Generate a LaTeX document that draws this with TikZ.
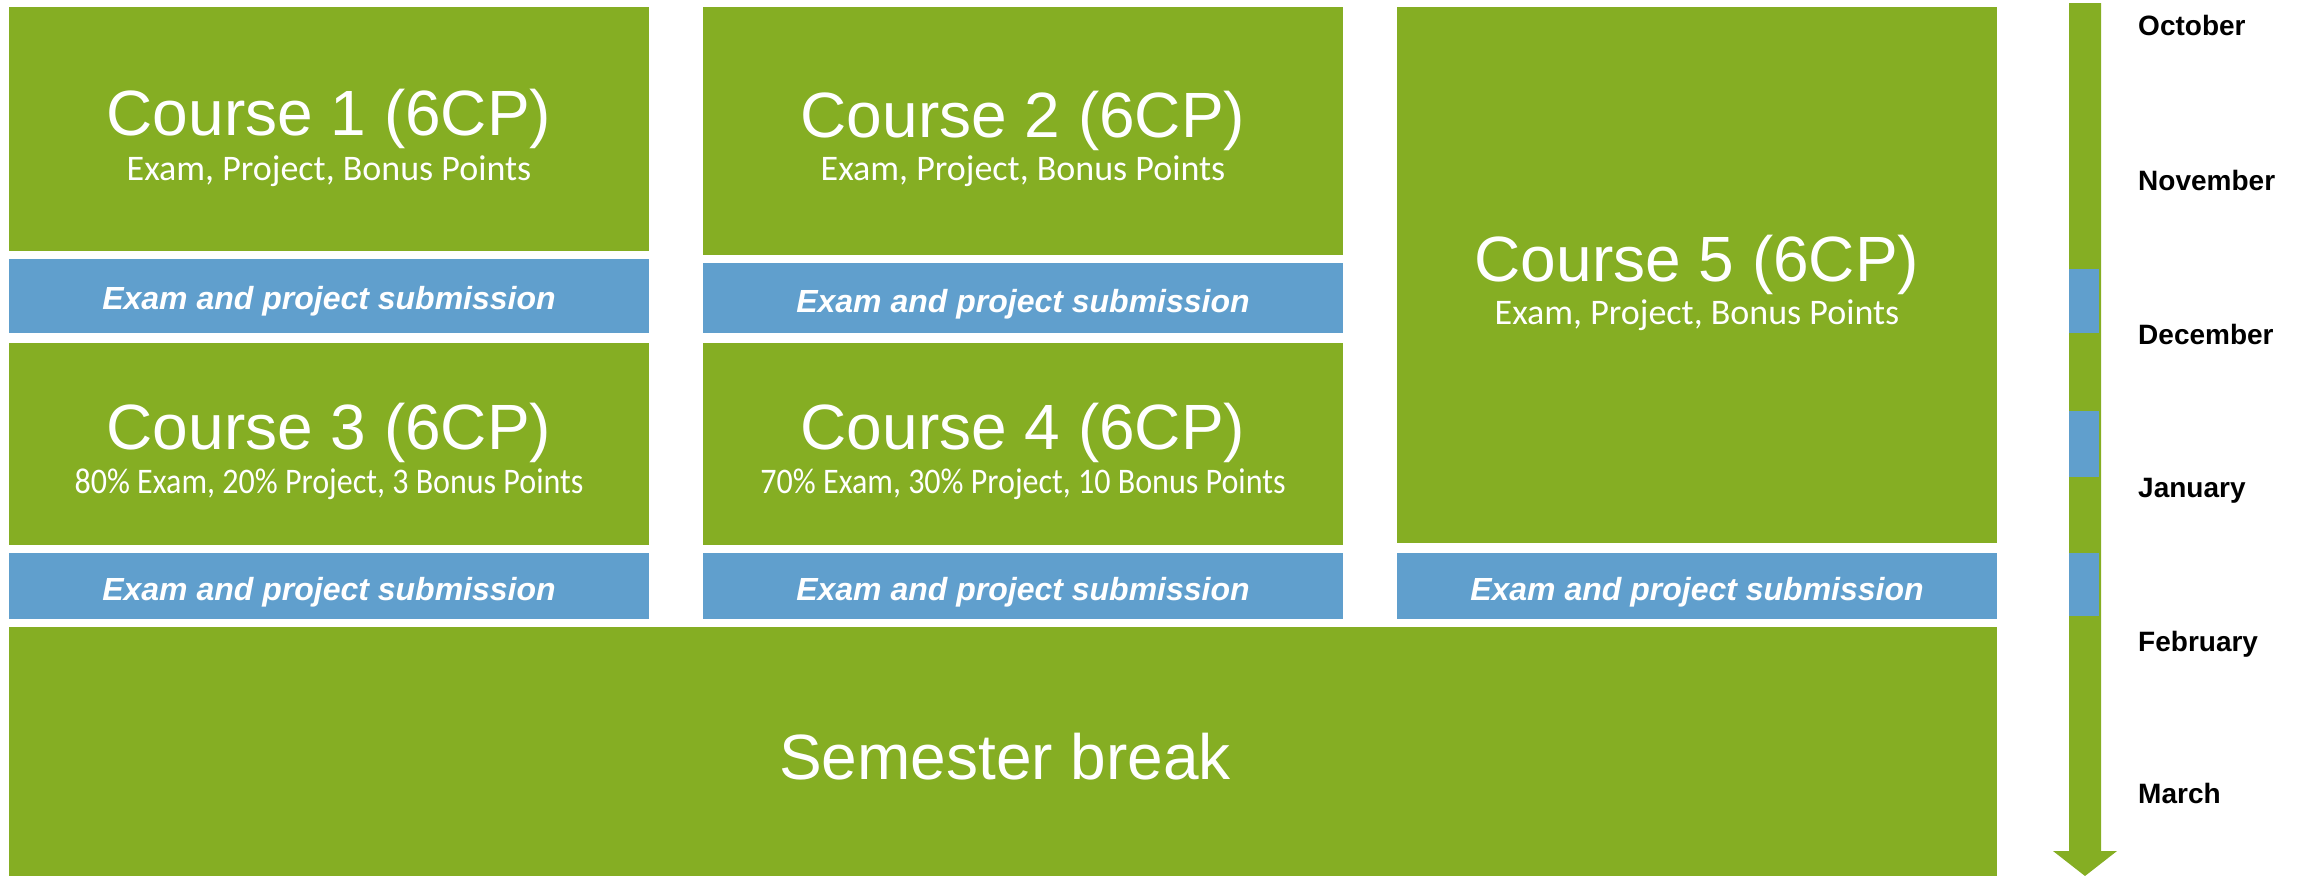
\documentclass[tikz,border=0pt]{standalone}
\usepackage{fontspec}
\setmainfont{Liberation Sans}
\newfontfamily\subfont{Carlito}
\usetikzlibrary{fit}
\definecolor{cgreen}{RGB}{133,174,35}
\definecolor{cblue}{RGB}{96,159,205}
\tikzset{
  gbox/.style={fill=cgreen, inner sep=0pt, outer sep=0pt, draw=none},
  bbox/.style={fill=cblue, inner sep=0pt, outer sep=0pt, draw=none},
  titletext/.style={anchor=base, inner sep=0pt, text=white, font=\fontsize{64}{70}\selectfont},
  subtext/.style={anchor=base, inner sep=0pt, text=white, font=\subfont\fontsize{36}{40}\selectfont},
  bluetext/.style={anchor=base, inner sep=0pt, text=white, font=\bfseries\itshape\fontsize{32}{36}\selectfont},
  monthtext/.style={anchor=base west, inner sep=0pt, text=black, font=\bfseries\fontsize{28}{32}\selectfont},
}
\begin{document}
\begin{tikzpicture}[x=1pt,y=-1pt]
\useasboundingbox (0,0) rectangle (2303,876);
% column 1
\node[gbox, fit={(9,7) (649,251)}] (c1) {};
\node[bbox, fit={(9,259) (649,333)}] (s1) {};
\node[gbox, fit={(9,343) (649,545)}] (c3) {};
\node[bbox, fit={(9,553) (649,619)}] (s3) {};
% column 2
\node[gbox, fit={(703,7) (1343,255)}] (c2) {};
\node[bbox, fit={(703,263) (1343,333)}] (s2) {};
\node[gbox, fit={(703,343) (1343,545)}] (c4) {};
\node[bbox, fit={(703,553) (1343,619)}] (s4) {};
% column 3
\node[gbox, fit={(1397,7) (1997,543)}] (c5) {};
\node[bbox, fit={(1397,553) (1997,619)}] (s5) {};
% semester break
\node[gbox, fit={(9,627) (1997,876)}] (sb) {};
% texts
\node[titletext] (c1t) at (329,135) {Course 1 (6CP)};
\node[subtext] (c1s) at (329,180) {Exam, Project, Bonus Points};
\node[titletext] (c2t) at (1023,137) {Course 2 (6CP)};
\node[subtext] (c2s) at (1023,180) {Exam, Project, Bonus Points};
\node[titletext] (c3t) at (329,449) {Course 3 (6CP)};
\node[subtext] (c3s) at (329,493) {\scalebox{0.89}[1]{80\% Exam, 20\% Project, 3 Bonus Points}};
\node[titletext] (c4t) at (1023,449) {Course 4 (6CP)};
\node[subtext] (c4s) at (1023,493) {\scalebox{0.89}[1]{70\% Exam, 30\% Project, 10 Bonus Points}};
\node[titletext] (c5t) at (1697,281) {Course 5 (6CP)};
\node[subtext] (c5s) at (1697,324) {Exam, Project, Bonus Points};
\node[bluetext] (s1t) at (329,309) {Exam and project submission};
\node[bluetext] (s2t) at (1023,312) {Exam and project submission};
\node[bluetext] (s3t) at (329,600) {Exam and project submission};
\node[bluetext] (s4t) at (1023,600) {Exam and project submission};
\node[bluetext] (s5t) at (1697,600) {Exam and project submission};
\node[titletext] (sbt) at (1005,779) {Semester break};
% timeline arrow
\fill[cgreen] (2069,3) -- (2101,3) -- (2101,851) -- (2117,851) -- (2085,876) -- (2053,851) -- (2069,851) -- cycle;
\fill[cblue] (2069,269) rectangle (2099,333);
\fill[cblue] (2069,411) rectangle (2099,477);
\fill[cblue] (2069,553) rectangle (2099,616);
% months
\node[monthtext] (m1) at (2138,35) {October};
\node[monthtext] (m2) at (2138,190) {November};
\node[monthtext] (m3) at (2138,344) {December};
\node[monthtext] (m4) at (2138,497) {January};
\node[monthtext] (m5) at (2138,651) {February};
\node[monthtext] (m6) at (2138,803) {March};
\end{tikzpicture}
\end{document}
